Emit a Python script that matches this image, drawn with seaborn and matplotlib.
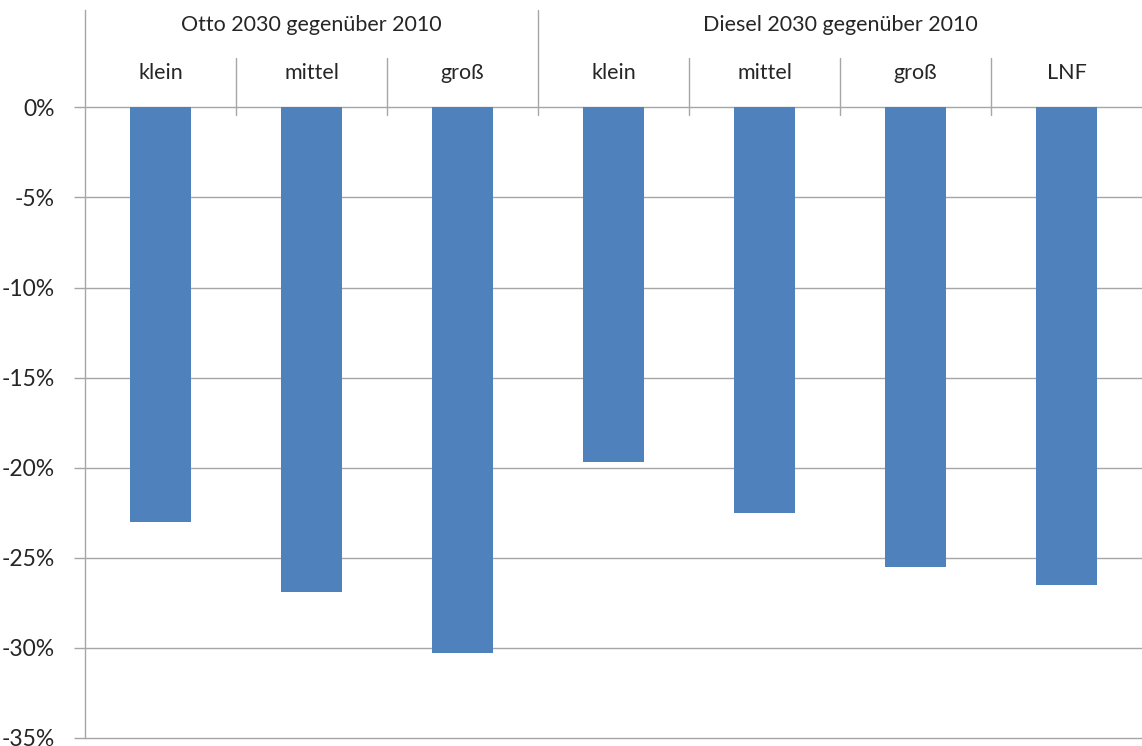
import pandas as pd
import seaborn as sns
import matplotlib.pyplot as plt

groups = ["Otto 2030 gegenüber 2010", "Diesel 2030 gegenüber 2010"]
group_sizes = [3, 4]
categories = ["klein", "mittel", "groß", "klein", "mittel", "groß", "LNF"]
values = [-23.0, -26.9, -30.3, -19.7, -22.5, -25.5, -26.5]

sns.set_theme(style="white")
plt.rcParams['font.family'] = ['Lato', 'DejaVu Sans']

keys = [f"{i}_{c}" for i, c in enumerate(categories)]
df = pd.DataFrame({"key": keys, "value": values})

fig = plt.figure(figsize=(11.42, 7.46), dpi=100)
ax = fig.add_axes([85 / 1142, 1 - 738 / 746, 1 - 85 / 1142, (738 - 10) / 746])

grid_col = "#a6a6a6"
for y in range(0, -36, -5):
    ax.axhline(y, color=grid_col, lw=1.0, zorder=0, clip_on=False)

sns.barplot(data=df, x="key", y="value", color="#4f81bd", width=0.4,
            saturation=1, linewidth=0, ax=ax, zorder=2)

ax.set_xlim(-0.5, len(categories) - 0.5)
ax.set_ylim(-35, 5.4)
ax.set_yticks(range(0, -36, -5))
ax.set_yticklabels([f"{y}%" for y in range(0, -36, -5)], fontsize=16.5)
ax.set_xticks([])
ax.set_xlabel("")
ax.set_ylabel("")
ax.tick_params(axis="y", left=True, length=8, width=1, color=grid_col, pad=14)
for s in ["top", "right", "bottom"]:
    ax.spines[s].set_visible(False)
ax.spines["left"].set_color(grid_col)
ax.spines["left"].set_linewidth(1.0)

# header: category labels and separators
for i, c in enumerate(categories):
    ax.text(i, 1.9, c, ha="center", va="center", fontsize=15.5)
start = 0
for g, n in zip(groups, group_sizes):
    ax.text(start + (n - 1) / 2, 4.55, g, ha="center", va="center", fontsize=15.5)
    for j in range(1, n):
        ax.plot([start + j - 0.5] * 2, [2.72, -0.44], color=grid_col, lw=1.0, clip_on=False)
    start += n
    if start < len(categories):
        ax.plot([start - 0.5] * 2, [5.4, -0.44], color=grid_col, lw=1.0, clip_on=False)

fig.savefig("out.png", dpi=100)
